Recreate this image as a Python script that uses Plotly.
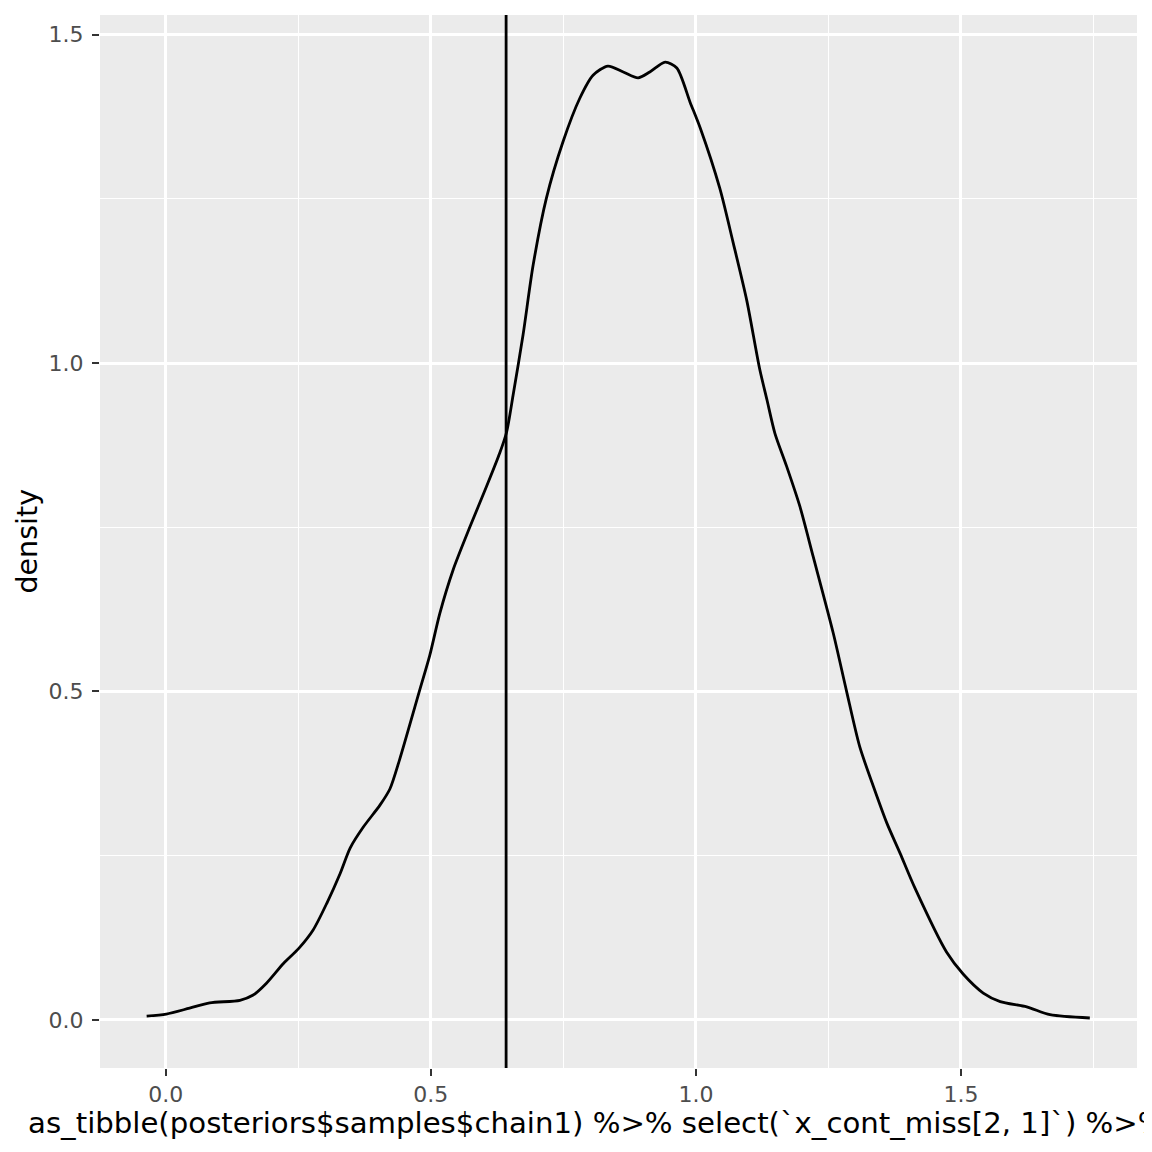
import plotly.graph_objects as go

# density curve
dens_x = [-0.036, 0.001, 0.045, 0.083, 0.140, 0.165, 0.190, 0.222, 0.251, 0.278,
          0.304, 0.329, 0.348, 0.373, 0.404, 0.423, 0.441, 0.479, 0.498,
          0.517, 0.542, 0.574, 0.605, 0.630, 0.643, 0.655, 0.674, 0.693, 0.718,
          0.749, 0.781, 0.806, 0.834, 0.863, 0.891, 0.913, 0.942, 0.964, 0.989,
          1.008, 1.045, 1.070, 1.096, 1.120, 1.134, 1.149, 1.171, 1.196, 1.221,
          1.259, 1.284, 1.309, 1.335, 1.360, 1.385, 1.413, 1.473,
          1.504, 1.542, 1.574, 1.624, 1.668, 1.743]
dens_y = [0.006, 0.009, 0.018, 0.026, 0.030, 0.038, 0.056, 0.086, 0.109, 0.137,
          0.178, 0.223, 0.262, 0.294, 0.327, 0.352, 0.396, 0.502, 0.555,
          0.619, 0.685, 0.751, 0.812, 0.863, 0.895, 0.950, 1.043, 1.149, 1.251,
          1.336, 1.403, 1.438, 1.452, 1.443, 1.434, 1.443, 1.458, 1.449, 1.397,
          1.358, 1.266, 1.184, 1.095, 0.992, 0.944, 0.893, 0.843, 0.782, 0.706,
          0.589, 0.501, 0.416, 0.355, 0.300, 0.254, 0.201, 0.103,
          0.070, 0.041, 0.028, 0.020, 0.008, 0.003]

vline_x = 0.642

x_ticks = [0.0, 0.5, 1.0, 1.5]
y_ticks = [0.0, 0.5, 1.0, 1.5]
x_title = "as_tibble(posteriors$samples$chain1) %>% select(`x_cont_miss[2, 1]`) %>%"
y_title = "density"

x_range = [-0.124, 1.832]
y_range = [-0.0731, 1.5297]

fig = go.Figure()
fig.add_trace(go.Scatter(x=dens_x, y=dens_y, mode="lines",
                         line=dict(color="black", width=2.8, shape="spline", smoothing=0.75),
                         showlegend=False, hoverinfo="skip"))
fig.add_shape(type="line", xref="x", yref="paper", x0=vline_x, x1=vline_x, y0=0, y1=1,
              line=dict(color="black", width=2.8))

axis_common = dict(
    showline=False, zeroline=False,
    gridcolor="white", gridwidth=2.6,
    ticks="outside", ticklen=7, tickwidth=2.4, tickcolor="#333333",
    tickfont=dict(family="DejaVu Sans", size=22, color="#4D4D4D"),
    tickformat=".1f",
    minor=dict(showgrid=True, gridcolor="white", gridwidth=1.3, ticks=""),
)

fig.update_xaxes(range=x_range, tickmode="array", tickvals=x_ticks,
                 minor_tickvals=[-0.25, 0.25, 0.75, 1.25, 1.75],
                 ticklabelstandoff=0, **axis_common)
fig.update_yaxes(range=y_range, tickmode="array", tickvals=y_ticks,
                 minor_tickvals=[0.25, 0.75, 1.25],
                 ticklabelstandoff=4, **axis_common)

fig.add_annotation(text=x_title, xref="paper", yref="paper",
                   x=(26 - 100) / 1037, y=-(1123 - 1068) / 1053,
                   xanchor="left", yanchor="middle", showarrow=False,
                   font=dict(family="DejaVu Sans", size=29.2, color="black"))
fig.add_annotation(text=y_title, xref="paper", yref="paper",
                   x=(27 - 100) / 1037, y=0.5, textangle=-90,
                   xanchor="center", yanchor="middle", showarrow=False,
                   font=dict(family="DejaVu Sans", size=28.5, color="black"))

# page body has an 8px margin: figure is offset by (8, 8) in the window
fig.update_layout(
    width=1144, height=1144,
    margin=dict(l=92, r=15, t=7, b=84, pad=0),
    plot_bgcolor="#EBEBEB", paper_bgcolor="white",
)

fig.write_html("out.html")
